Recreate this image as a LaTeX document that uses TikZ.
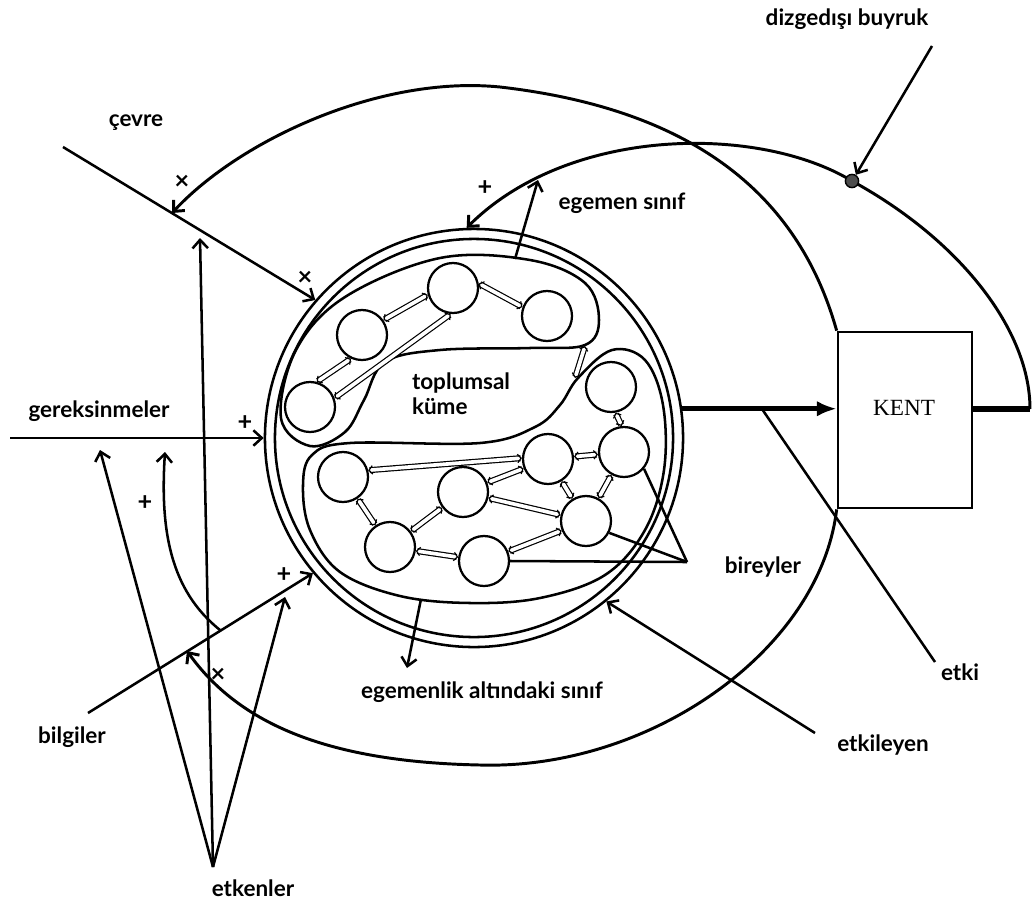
\documentclass[tikz,border=0pt]{standalone}
\usepackage{fontspec}
\setmainfont{Lato}
\newfontfamily\kentfont{Liberation Serif}
\usetikzlibrary{arrows.meta, positioning}

\begin{document}
\begin{tikzpicture}[x=0.025cm, y=-0.025cm, line width=1.8pt,
  yazi/.style={font=\fontsize{16}{18}\selectfont\bfseries, inner sep=1pt},
  isaret/.style={font=\fontsize{18}{20}\selectfont\bfseries, inner sep=0pt},
  birey/.style={draw, circle, minimum size=1.25cm, inner sep=0pt, fill=white, line width=1.6pt},
  bag/.style={line width=0.85pt, double distance=2.6pt, {Straight Barb[length=2.5pt, width=6pt]}-{Straight Barb[length=2.5pt, width=6pt]}},
  ok/.style={-{Straight Barb[length=6pt, width=11pt]}},
  kalin/.style={line width=3.8pt}]

\useasboundingbox (0,0) rectangle (1033,902);

\draw plot[smooth cycle, tension=0.6] coordinates {(281,418) (296,350) (345,297) (440,258) (530,260) (585,283) (599,320) (585,345) (530,348) (440,350) (385,362) (364,400) (345,432) (310,446)};
\draw plot[smooth cycle, tension=0.6] coordinates {(312,455) (350,443) (480,443) (535,427) (560,405) (578,378) (612,350) (645,360) (663,405) (664,470) (645,530) (605,575) (540,598) (470,603) (400,596) (340,572) (310,530) (303,485)};

\node[draw, circle, minimum size=10.45cm, inner sep=0pt] (dis) at (474,438) {};
\node[draw, circle, minimum size=9.95cm, inner sep=0pt] (ic) at (474,438) {};

\node[birey] (b1) at (362,335) {};
\node[birey] (b2) at (453,288) {};
\node[birey] (b3) at (547,316) {};
\node[birey] (b4) at (310,407) {};
\node[birey] (b5) at (611,387) {};
\node[birey] (b6) at (624,452) {};
\node[birey] (b7) at (548,459) {};
\node[birey] (b8) at (343,477) {};
\node[birey] (b9) at (463,492) {};
\node[birey] (b10) at (586,521) {};
\node[birey] (b11) at (390,547) {};
\node[birey] (b12) at (484,561) {};

\coordinate (k1) at (585,346);
\coordinate (k2) at (575,378);

\draw[bag] (b4.75) -- (b1.-115);
\draw[bag] (b4.20) -- (b2.-95);
\draw[bag] (b1.35) -- (b2.195);
\draw[bag] (b2.10) -- (b3.160);
\draw[bag] (k1) -- (k2);
\draw[bag] (b5.-80) -- (b6.95);
\draw[bag] (b7) -- (b6);
\draw[bag] (b8.15) -- (b7.178);
\draw[bag] (b9) -- (b7);
\draw[bag] (b8) -- (b11);
\draw[bag] (b11) -- (b9);
\draw[bag] (b9) -- (b10);
\draw[bag] (b7) -- (b10);
\draw[bag] (b6) -- (b10);
\draw[bag] (b11) -- (b12);
\draw[bag] (b12) -- (b10);

\node[yazi, align=left] (kume) at (461,394) {toplumsal\\küme};

\node[draw, minimum width=3.35cm, minimum height=4.4cm, line width=1.9pt] (kent) at (905,420) {};
\node[font=\kentfont\fontsize{16.5}{18}\selectfont] (kentyazi) at (904,408) {KENT};

\node[yazi] (cevre) at (136,123) {çevre};
\node[yazi] (gerek) at (99,411) {gereksinmeler};
\node[yazi] (bilgi) at (72,737) {bilgiler};
\node[yazi] (etken) at (253,888) {etkenler};
\node[yazi] (dizge) at (847,19) {dizgedışı buyruk};
\node[yazi] (egemen) at (622,203) {egemen sınıf};
\node[yazi] (altsinif) at (482,692) {egemenlik altındaki sınıf};
\node[yazi] (bireyyazi) at (763,567) {bireyler};
\node[yazi] (etkiyazi) at (960,672) {etki};
\node[yazi] (etkileyen) at (883,745) {etkileyen};

\coordinate (cevrebas) at (63,147);
\coordinate (cevreok) at (172,213);
\coordinate (gerekbas) at (10,438);
\coordinate (bilgibas) at (88,713);
\coordinate (bilgiok) at (187,651);
\coordinate (bilgiegri) at (220,630);
\coordinate (tepe) at (213,867);
\coordinate (e1) at (100,450);
\coordinate (e2) at (200,238);
\coordinate (e3) at (285,597);
\coordinate (e4) at (165,452);
\coordinate (dizgebas) at (932,46);
\coordinate (etkibas) at (762,409);
\coordinate (etkison) at (935,662);
\coordinate (etkileyenbas) at (815,733);
\coordinate (sag) at (1030,409);
\coordinate (ucgen) at (687,562);
\coordinate (ustbag) at (515,259);
\coordinate (egemenuc) at (538,180);
\coordinate (altbag) at (421,599);
\coordinate (altuc) at (407,668);
\coordinate (nokta) at (852,181);

\draw[ok] (cevrebas) -- (dis.139);
\draw[ok] (gerekbas) -- (dis.west);
\draw[ok] (bilgibas) -- (dis.220);
\draw[ok] (etkileyenbas) -- (dis.309);
\draw[ok] (ustbag) -- (egemenuc);
\draw[ok] (altbag) -- (altuc);

\draw[kalin, -{Latex[length=14pt, width=11pt]}] (dis.8) -- (dis.8 -| kent.west);
\draw[kalin] (kent.east |- sag) -- (sag);
\draw[ok, line width=2.1pt] (sag) .. controls (1030,330) and (960,240) .. (nokta) .. controls (760,125) and (570,125) .. (dis.92);
\draw[ok, line width=2.1pt] (kent.north west) .. controls (800,200) and (700,110) .. (500,87) .. controls (380,75) and (240,140) .. (cevreok);
\draw[ok, line width=2.1pt] (kent.south west) .. controls (820,650) and (650,770) .. (480,765) .. controls (330,762) and (240,725) .. (bilgiok);
\node[circle, draw, fill=black!70, minimum size=0.33cm, inner sep=0pt, line width=1pt] (noktadaire) at (nokta) {};
\draw[ok] (dizgebas) -- (noktadaire.58);

\draw (etkibas) -- (etkison);
\draw (ucgen) -- (b6.-40);
\draw (ucgen) -- (b10.-27);
\draw (ucgen) -- (b12.east);

\draw[ok] (tepe) -- (e1);
\draw[ok] (tepe) -- (e2);
\draw[ok] (tepe) -- (e3);
\draw[ok] (bilgiegri) .. controls (170,590) and (160,530) .. (e4);

\node[isaret] (i1) at (182,182) {×};
\node[isaret] (i2) at (305,278) {×};
\node[isaret] (i3) at (245,423) {+};
\node[isaret] (i4) at (145,503) {+};
\node[isaret] (i5) at (284,575) {+};
\node[isaret] (i6) at (218,675) {×};
\node[isaret] (i7) at (485,188) {+};
\end{tikzpicture}
\end{document}
